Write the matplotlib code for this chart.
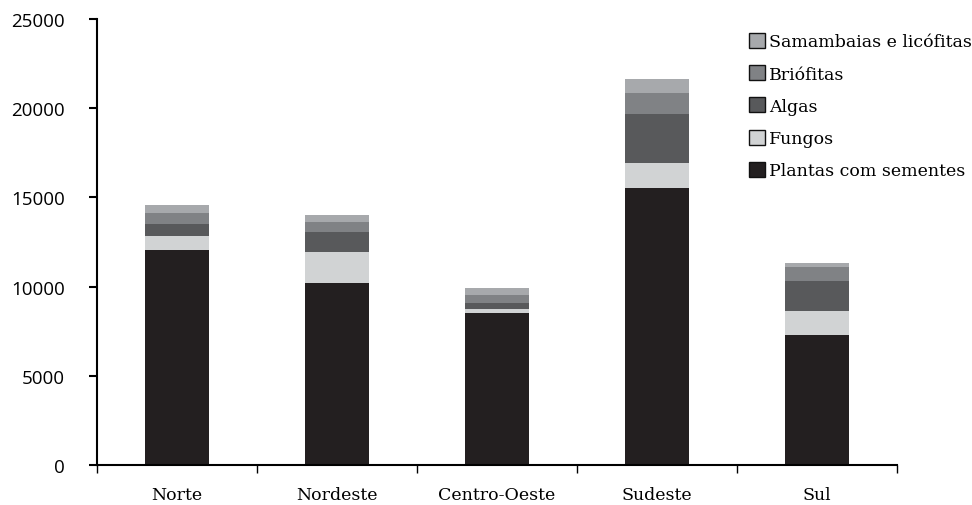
import matplotlib
matplotlib.use("Agg")
import matplotlib.pyplot as plt
from matplotlib.patches import Patch
import numpy as np

regions = ["Norte", "Nordeste", "Centro-Oeste", "Sudeste", "Sul"]
plantas = [12050, 10200, 8520, 15530, 7290]
fungos = [790, 1740, 220, 1400, 1340]
algas = [670, 1120, 340, 2750, 1680]
briofitas = [620, 560, 450, 1180, 790]
samambaias = [450, 390, 390, 790, 220]

series_names = ["Plantas com sementes", "Fungos", "Algas", "Briófitas", "Samambaias e licófitas"]
series_vals = [plantas, fungos, algas, briofitas, samambaias]
colors = ["#231f20", "#d1d3d4", "#58595b", "#808285", "#a7a9ac"]
yticks = [0, 5000, 10000, 15000, 20000, 25000]

fig = plt.figure(figsize=(9.72, 5.06), dpi=100)
ax = fig.add_axes([97/972, 1-466/506, 800/972, 446/506])

x = np.arange(len(regions))
bottom = np.zeros(len(regions))
for name, vals, c in zip(series_names, series_vals, colors):
    ax.bar(x, vals, width=0.4, bottom=bottom, color=c, edgecolor="none", label=name)
    bottom += np.array(vals)

ax.set_xlim(-0.5, len(regions) - 0.5)
ax.set_ylim(0, 25000)
ax.set_yticks(yticks)
ax.set_yticklabels([str(v) for v in yticks], fontfamily="Open Sans", fontsize=13.5)
ax.set_xticks(x)
ax.set_xticklabels(regions, fontfamily="DejaVu Serif", fontsize=12.5)
ax.set_xticks(np.arange(-0.5, len(regions)), minor=True)
ax.tick_params(axis="x", which="major", length=0, pad=15)
ax.tick_params(axis="x", which="minor", length=6, width=1.0, direction="out", color="black")
ax.tick_params(axis="y", which="major", length=6, width=1.5, direction="out", pad=17, color="black")

for s in ["top", "right"]:
    ax.spines[s].set_visible(False)
for s in ["left", "bottom"]:
    ax.spines[s].set_linewidth(1.5)
    ax.spines[s].set_color("black")

handles = [Patch(facecolor=c, edgecolor="#111111", linewidth=1.0) for c in colors][::-1]
labels = series_names[::-1]
fig.legend(handles, labels, loc="upper left", bbox_to_anchor=(749/972, 1-34/506),
           frameon=False, prop={"family": "DejaVu Serif", "size": 12.5},
           handlelength=0.95, handleheight=0.95, handletextpad=0.2,
           labelspacing=0.85, borderpad=0, borderaxespad=0)

fig.savefig("out.png", dpi=100)
